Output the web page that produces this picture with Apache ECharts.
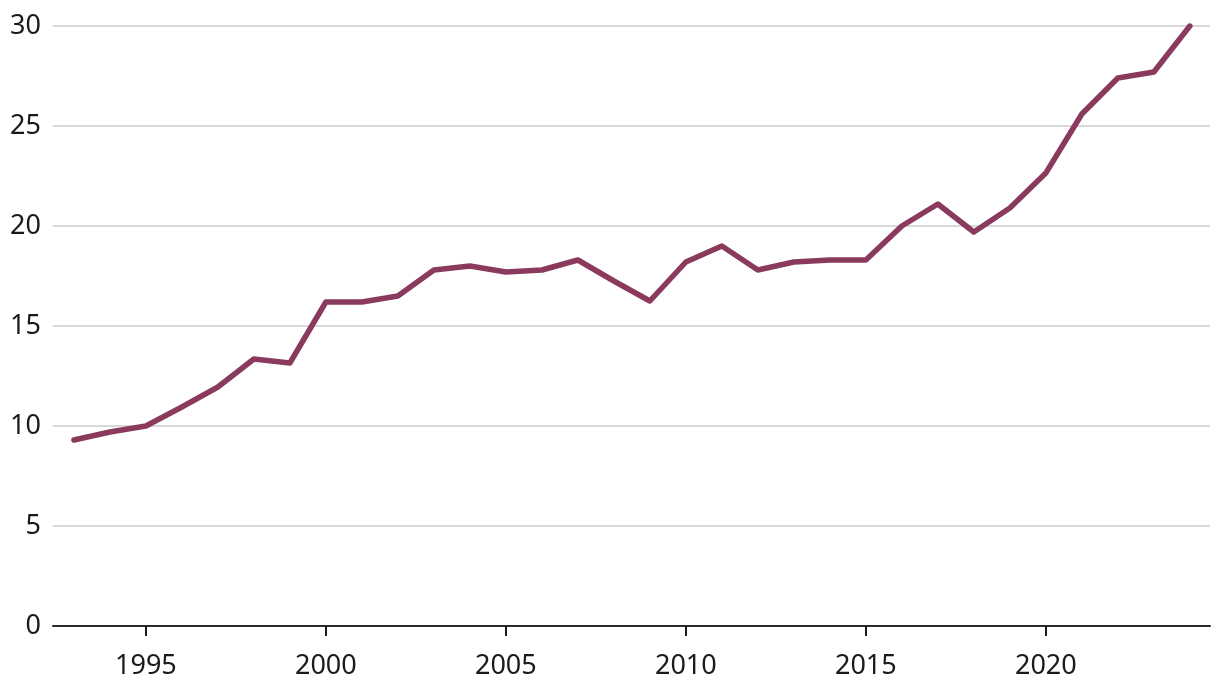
<!DOCTYPE html>
<html>
<head>
<meta charset="utf-8">
<script src="https://cdn.jsdelivr.net/npm/echarts@6/dist/echarts.min.js"></script>
<style>
html,body{margin:0;padding:0;background:#fff;}
#c{width:1220px;height:692px;}
</style>
</head>
<body>
<div id="c"></div>
<script>
const years = [1993,1994,1995,1996,1997,1998,1999,2000,2001,2002,2003,2004,2005,2006,2007,2008,2009,2010,2011,2012,2013,2014,2015,2016,2017,2018,2019,2020,2021,2022,2023,2024];
const values = [9.3,9.7,10.0,10.95,11.95,13.35,13.15,16.2,16.2,16.5,17.8,18.0,17.7,17.8,18.3,17.25,16.25,18.2,19.0,17.8,18.2,18.3,18.3,20.0,21.1,19.7,20.9,22.65,25.6,27.4,27.7,30.0];
const xTicks = [1995,2000,2005,2010,2015,2020];
const yTicks = [0,5,10,15,20,25,30];

const FONT = '"Noto Sans", sans-serif';
const chart = echarts.init(document.getElementById('c'), null, {renderer:'canvas'});
chart.setOption({
  animation:false,
  backgroundColor:'#fff',
  grid:{left:53, right:10, top:26, bottom:66, containLabel:false},
  xAxis:{
    type:'value', min:1992.42, max:2024.56,
    splitLine:{show:false},
    axisLine:{show:true, lineStyle:{color:'#2b2b2b', width:2}},
    axisTick:{show:true, customValues:xTicks, length:10, lineStyle:{color:'#1a1a1a', width:2}},
    axisLabel:{customValues:xTicks, color:'#1a1a1a', fontSize:27, fontFamily:FONT, margin:27, formatter:v=>String(v)}
  },
  yAxis:{
    type:'value', min:0, max:30,
    axisLine:{show:false}, axisTick:{show:false},
    splitLine:{show:true, lineStyle:{color:'#cccccc', width:1.5}},
    axisLabel:{customValues:yTicks, color:'#1a1a1a', fontSize:27, fontFamily:FONT, margin:12}
  },
  series:[{
    type:'line',
    data: years.map((y,i)=>[y, values[i]]),
    showSymbol:false,
    lineStyle:{color:'#8a3b5d', width:5.5, cap:'round', join:'round'},
    itemStyle:{color:'#8a3b5d'}
  }]
});
</script>
</body>
</html>
